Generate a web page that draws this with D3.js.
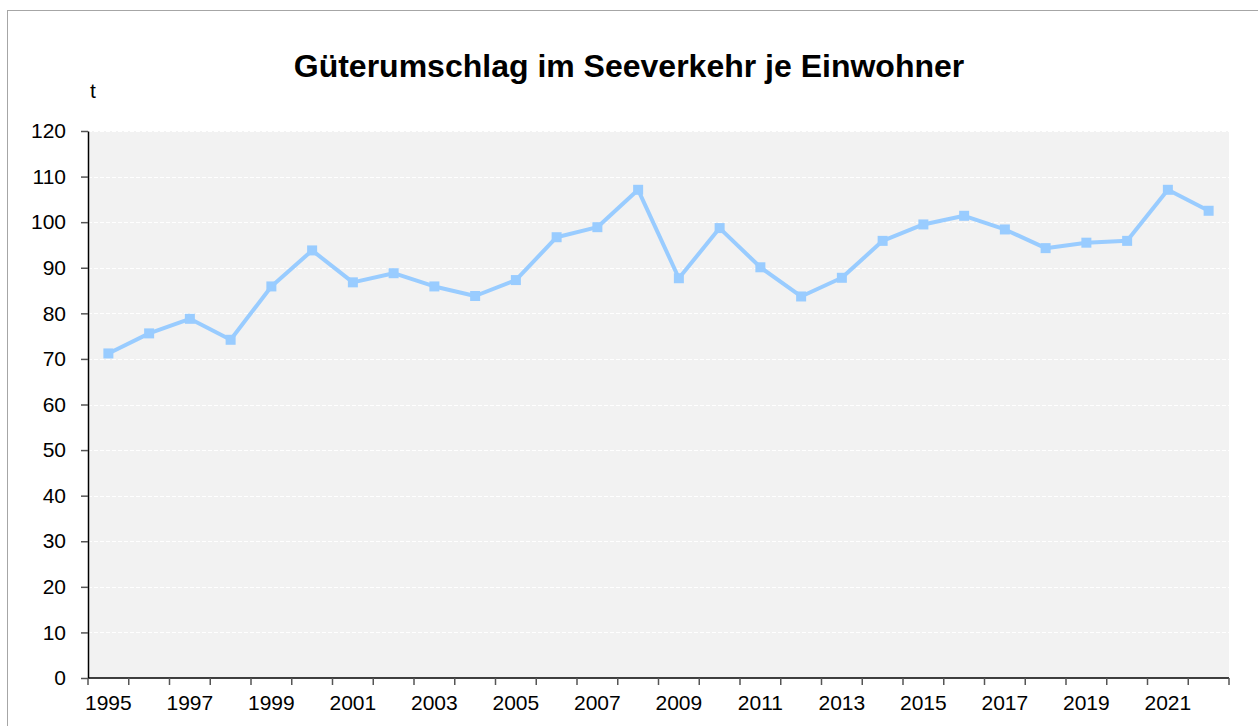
<!DOCTYPE html>
<html>
<head>
<meta charset="utf-8">
<script src="https://cdn.jsdelivr.net/npm/d3@7"></script>
<style>
  html, body { margin: 0; padding: 0; background: #fff; }
  svg { display: block; font-family: "Liberation Sans", Arial, sans-serif; }
</style>
</head>
<body>
<svg id="chart" width="1258" height="726"></svg>
<script>
const years = [1995,1996,1997,1998,1999,2000,2001,2002,2003,2004,2005,2006,2007,2008,2009,2010,2011,2012,2013,2014,2015,2016,2017,2018,2019,2020,2021,2022];
const values = [71.2,75.6,78.8,74.2,85.9,93.8,86.8,88.8,85.9,83.8,87.3,96.7,98.9,107.1,87.7,98.7,90.1,83.7,87.8,95.9,99.5,101.4,98.4,94.3,95.5,95.9,107.1,102.5];
const yTicks = [0,10,20,30,40,50,60,70,80,90,100,110,120];
const xLabelYears = [1995,1997,1999,2001,2003,2005,2007,2009,2011,2013,2015,2017,2019,2021];
const title = "Güterumschlag im Seeverkehr je Einwohner";
const unit = "t";

const svg = d3.select("#chart");
const m = { left: 88, right: 1229, top: 131, bottom: 678 };

// outer border
svg.append("rect").attr("x", 7.5).attr("y", 10.5).attr("width", 1300).attr("height", 800)
  .attr("fill", "none").attr("stroke", "#a6a6a6").attr("stroke-width", 1);

const x = d3.scaleBand().domain(years).range([m.left, m.right]).padding(0);
const y = d3.scaleLinear().domain([0, 120]).range([m.bottom, m.top]);

// plot background
svg.append("rect").attr("x", m.left).attr("y", m.top)
  .attr("width", m.right - m.left).attr("height", m.bottom - m.top).attr("fill", "#f2f2f2");

// gridlines
svg.append("g").selectAll("line").data(yTicks.filter(d => d > 0)).join("line")
  .attr("x1", m.left).attr("x2", m.right)
  .attr("y1", d => Math.round(y(d)) + 0.5).attr("y2", d => Math.round(y(d)) + 0.5)
  .attr("stroke", "#ffffff").attr("stroke-width", 1).attr("stroke-dasharray", "4,2");

// y axis
const yAxis = d3.axisLeft(y).tickValues(yTicks).tickSize(7).tickPadding(15).tickSizeOuter(0);
const gy = svg.append("g").attr("transform", `translate(${m.left},0)`).call(yAxis);
gy.select(".domain").attr("stroke", "#000").attr("stroke-width", 1.5);
gy.selectAll(".tick line").attr("stroke", "#555").attr("stroke-width", 1.5);
gy.selectAll(".tick text").attr("font-size", 21).attr("fill", "#000")
  .attr("font-family", "'Liberation Sans', Arial, sans-serif");

// x axis: ticks at category boundaries
const boundaries = years.map(d => x(d)).concat([m.right]);
const gx = svg.append("g");
gx.append("line").attr("x1", m.left).attr("x2", m.right)
  .attr("y1", m.bottom).attr("y2", m.bottom).attr("stroke", "#000").attr("stroke-width", 1.5);
gx.selectAll("line.tk").data(boundaries).join("line").attr("class", "tk")
  .attr("x1", d => d).attr("x2", d => d)
  .attr("y1", m.bottom).attr("y2", m.bottom + 7)
  .attr("stroke", "#555").attr("stroke-width", 1.5);
gx.selectAll("text").data(xLabelYears).join("text")
  .attr("x", d => x(d) + x.bandwidth() / 2).attr("y", 710)
  .attr("text-anchor", "middle").attr("font-size", 21).attr("fill", "#000")
  .text(d => d);

// line
const line = d3.line().x((d, i) => x(years[i]) + x.bandwidth() / 2).y(d => y(d));
svg.append("path").datum(values).attr("d", line)
  .attr("fill", "none").attr("stroke", "#99ccff").attr("stroke-width", 4)
  .attr("stroke-linejoin", "round");

// markers
const ms = 10;
svg.append("g").selectAll("rect").data(values).join("rect")
  .attr("x", (d, i) => x(years[i]) + x.bandwidth() / 2 - ms / 2)
  .attr("y", d => y(d) - ms / 2)
  .attr("width", ms).attr("height", ms).attr("fill", "#99ccff");

// title
svg.append("text").attr("x", 629).attr("y", 77).attr("text-anchor", "middle")
  .attr("font-size", 32).attr("font-weight", "bold").attr("fill", "#000").text(title);

// unit
svg.append("text").attr("x", 90).attr("y", 98).attr("font-size", 21).attr("fill", "#000").text(unit);
</script>
</body>
</html>
